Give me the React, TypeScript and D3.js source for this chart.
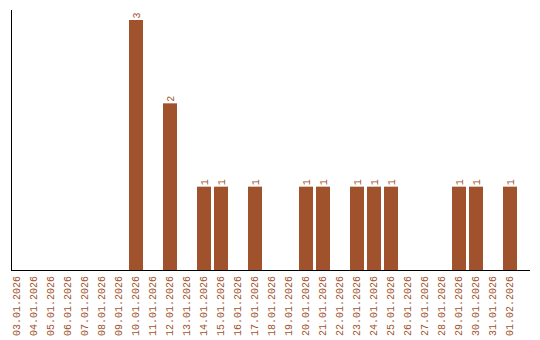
import React from "react";
import * as d3 from "d3";

const dates = [
  "03.01.2026","04.01.2026","05.01.2026","06.01.2026","07.01.2026","08.01.2026","09.01.2026",
  "10.01.2026","11.01.2026","12.01.2026","13.01.2026","14.01.2026","15.01.2026","16.01.2026",
  "17.01.2026","18.01.2026","19.01.2026","20.01.2026","21.01.2026","22.01.2026","23.01.2026",
  "24.01.2026","25.01.2026","26.01.2026","27.01.2026","28.01.2026","29.01.2026","30.01.2026",
  "31.01.2026","01.02.2026",
];
const counts = [0,0,0,0,0,0,0,3,0,2,0,1,1,0,1,0,0,1,1,0,1,1,1,0,0,0,1,1,0,1];

const W = 540, H = 340;
const COLOR = "#A0522D";
const FONT = "'Liberation Mono', monospace";

export default function App() {
  const x = d3.scaleBand<string>().domain(dates).range([10, 517]).paddingInner(3 / 17).paddingOuter(0);
  const y = d3.scaleLinear().domain([0, 3]).range([270, 20]);
  const bw = x.bandwidth();
  return (
    <svg width={W} height={H} style={{ position: "absolute", left: 0, top: 0, background: "#fff" }}>
      {dates.map((d, i) => {
        const v = counts[i];
        const cx = (x(d) as number) + bw / 2;
        return (
          <g key={d}>
            {v > 0 && (
              <>
                <rect x={x(d)} y={y(v)} width={bw} height={y(0) - y(v)} fill={COLOR} />
                <text
                  transform={`translate(${cx},${y(v) - 1.5}) rotate(-90)`}
                  dy="0.35em"
                  fontFamily={FONT}
                  fontSize={10}
                  fill={COLOR}
                >
                  {v}
                </text>
              </>
            )}
            <text
              transform={`translate(${cx - 0.5},276) rotate(-90)`}
              dy="0.35em"
              textAnchor="end"
              fontFamily={FONT}
              fontSize={10}
              fill={COLOR}
            >
              {d}
            </text>
          </g>
        );
      })}
      <line x1={11.5} x2={11.5} y1={10} y2={270} stroke="#000" strokeWidth={1} />
      <line x1={11} x2={530} y1={270.5} y2={270.5} stroke="#000" strokeWidth={1} />
    </svg>
  );
}
